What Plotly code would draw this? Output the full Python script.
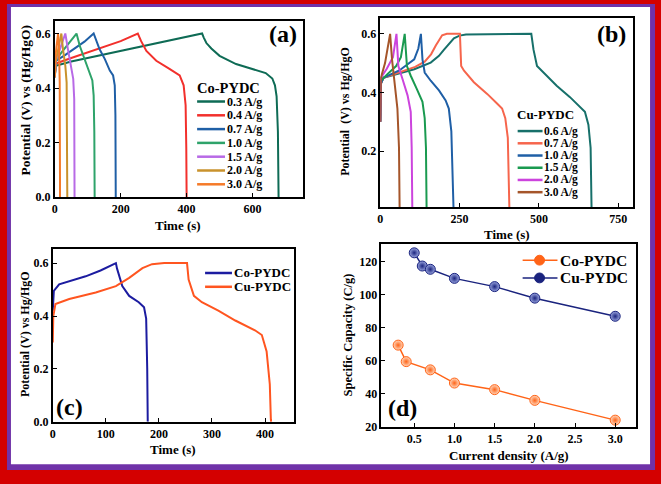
import plotly.graph_objects as go

W, H = 661, 484
SERIF = "Liberation Serif, Times New Roman, serif"

# ---------------- Panel (a): Co-PYDC GCD curves ----------------
A_RATES = ["0.3 A/g", "0.4 A/g", "0.7 A/g", "1.0 A/g", "1.5 A/g", "2.0 A/g", "3.0 A/g"]
A_COLORS = ["#0e6b55", "#f2302c", "#1f5fa6", "#2ea36a", "#b86ae6", "#c9922c", "#f57a28"]
A_TIME = [
    [0, 3, 50, 100, 150, 200, 250, 300, 350, 400, 447, 452, 460, 475, 500, 550, 600, 640, 660, 668, 673, 677, 679],
    [0, 3, 50, 100, 150, 200, 252, 262, 278, 308, 348, 379, 391, 397, 399, 400],
    [0, 3, 30, 60, 90, 118, 126, 136, 152, 167, 177, 182, 184, 185],
    [0, 3, 20, 40, 66, 76, 91, 104, 114, 118, 120, 121],
    [0, 3, 15, 32, 40, 48, 56, 59, 60],
    [0, 3, 10, 20, 25, 32, 36, 38],
    [0, 1, 5, 10, 13, 15, 16],
]
A_VOLT = [
    [0.44, 0.482, 0.497, 0.51, 0.522, 0.535, 0.548, 0.562, 0.575, 0.588, 0.60, 0.585, 0.565, 0.545, 0.518, 0.488, 0.47, 0.455, 0.435, 0.41, 0.37, 0.24, 0.0],
    [0.44, 0.49, 0.51, 0.53, 0.55, 0.572, 0.60, 0.572, 0.536, 0.50, 0.47, 0.446, 0.41, 0.337, 0.18, 0.0],
    [0.44, 0.50, 0.52, 0.545, 0.57, 0.60, 0.572, 0.542, 0.506, 0.464, 0.446, 0.41, 0.30, 0.0],
    [0.44, 0.50, 0.53, 0.56, 0.60, 0.554, 0.506, 0.464, 0.428, 0.373, 0.24, 0.0],
    [0.44, 0.50, 0.54, 0.60, 0.542, 0.482, 0.434, 0.36, 0.0],
    [0.44, 0.50, 0.54, 0.60, 0.542, 0.482, 0.42, 0.0],
    [0.44, 0.50, 0.55, 0.60, 0.54, 0.42, 0.0],
]

# ---------------- Panel (b): Cu-PYDC GCD curves ----------------
B_RATES = ["0.6 A/g", "0.7 A/g", "1.0 A/g", "1.5 A/g", "2.0 A/g", "3.0 A/g"]
B_COLORS = ["#17706a", "#f6654c", "#1f5fa6", "#1a9a50", "#cc44dd", "#a5552a"]
B_TIME = [
    [0, 2, 10, 50, 107, 159, 185, 201, 218, 232, 250, 270, 476, 483, 494, 515, 556, 598, 630, 645, 656, 663, 666],
    [0, 2, 10, 60, 110, 140, 160, 175, 185, 195, 210, 251, 255, 264, 295, 337, 368, 384, 394, 402, 407],
    [0, 2, 10, 60, 107, 120, 128, 133, 140, 159, 185, 206, 216, 224, 231],
    [0, 2, 20, 50, 65, 77, 84, 96, 115, 133, 140, 144, 146],
    [0, 2, 20, 40, 51, 57, 70, 86, 96, 99, 101],
    [0, 2, 15, 31, 37, 46, 54, 59, 61],
]
B_VOLT = [
    [0.30, 0.43, 0.45, 0.462, 0.479, 0.502, 0.525, 0.546, 0.568, 0.585, 0.594, 0.598, 0.60, 0.546, 0.49, 0.468, 0.423, 0.384, 0.35, 0.334, 0.29, 0.211, 0.0],
    [0.30, 0.43, 0.45, 0.468, 0.487, 0.505, 0.53, 0.56, 0.58, 0.595, 0.60, 0.60, 0.49, 0.474, 0.435, 0.395, 0.362, 0.345, 0.312, 0.245, 0.0],
    [0.30, 0.43, 0.45, 0.475, 0.513, 0.55, 0.60, 0.513, 0.468, 0.44, 0.407, 0.373, 0.345, 0.267, 0.0],
    [0.30, 0.44, 0.46, 0.49, 0.52, 0.60, 0.49, 0.457, 0.412, 0.368, 0.312, 0.211, 0.0],
    [0.30, 0.45, 0.48, 0.52, 0.60, 0.49, 0.446, 0.39, 0.334, 0.211, 0.0],
    [0.30, 0.45, 0.50, 0.60, 0.513, 0.423, 0.345, 0.211, 0.0],
]

# ---------------- Panel (c): comparison ----------------
C_NAMES = ["Co-PYDC", "Cu-PYDC"]
C_COLORS = ["#1c1ca0", "#ff5520"]
C_TIME = [
    [0, 0.5, 2, 12, 40, 62, 90, 119, 121, 125, 131, 144, 162, 172, 176, 178, 179],
    [0, 1, 5, 31, 81, 119, 144, 169, 187, 210, 253, 256, 266, 281, 312, 344, 381, 394, 403, 409, 411, 411.5],
]
C_VOLT = [
    [0.42, 0.46, 0.495, 0.52, 0.538, 0.55, 0.572, 0.60, 0.58, 0.555, 0.513, 0.476, 0.452, 0.433, 0.39, 0.2, 0.0],
    [0.30, 0.40, 0.445, 0.464, 0.489, 0.513, 0.544, 0.581, 0.596, 0.60, 0.60, 0.538, 0.476, 0.452, 0.42, 0.383, 0.346, 0.328, 0.266, 0.142, 0.01, 0.0],
]

# ---------------- Panel (d): specific capacity ----------------
D_NAMES = ["Co-PYDC", "Cu-PYDC"]
D_COLORS = ["#ff6418", "#1a237e"]
D_LIGHT = ["#ffd9bf", "#9aa6e0"]
D_CO_X = [0.3, 0.4, 0.7, 1.0, 1.5, 2.0, 3.0]
D_CO_Y = [69.5, 59.5, 54.5, 46.5, 42.5, 36.0, 24.0]
D_CU_X = [0.5, 0.6, 0.7, 1.0, 1.5, 2.0, 3.0]
D_CU_Y = [125.5, 117.5, 115.5, 110.0, 105.0, 98.0, 87.0]


def px(x):
    return x / W


def py(y):
    return 1 - y / H


fig = go.Figure()

for i in range(len(A_RATES)):
    fig.add_trace(go.Scatter(x=A_TIME[i], y=A_VOLT[i], mode="lines", name=A_RATES[i],
                             line=dict(color=A_COLORS[i], width=2), xaxis="x", yaxis="y",
                             showlegend=False))
for i in range(len(B_RATES)):
    fig.add_trace(go.Scatter(x=B_TIME[i], y=B_VOLT[i], mode="lines", name=B_RATES[i],
                             line=dict(color=B_COLORS[i], width=2), xaxis="x2", yaxis="y2",
                             showlegend=False))
for i in range(len(C_NAMES)):
    fig.add_trace(go.Scatter(x=C_TIME[i], y=C_VOLT[i], mode="lines", name=C_NAMES[i],
                             line=dict(color=C_COLORS[i], width=2), xaxis="x3", yaxis="y3",
                             showlegend=False))
for i, (xs, ys) in enumerate([(D_CO_X, D_CO_Y), (D_CU_X, D_CU_Y)]):
    fig.add_trace(go.Scatter(x=xs, y=ys, mode="lines+markers", name=D_NAMES[i],
                             line=dict(color=D_COLORS[i], width=1.5),
                             marker=dict(size=10, color=D_LIGHT[i],
                                         gradient=dict(type="radial", color=D_COLORS[i]),
                                         line=dict(color=D_COLORS[i], width=1)),
                             xaxis="x4", yaxis="y4", showlegend=False))

tickfont = dict(family=SERIF, size=12, color="black", weight="bold")


def axis(domain, rng, dtick=None, tickvals=None, anchor=None):
    d = dict(domain=domain, range=rng, showline=True, linecolor="black", linewidth=1.5,
             mirror=True, ticks="inside", ticklen=4, tickwidth=1.2, tickcolor="black",
             showgrid=False, zeroline=False, tickfont=tickfont, anchor=anchor)
    if dtick is not None:
        d["dtick"] = dtick
        d["tick0"] = 0
    if tickvals is not None:
        d["tickvals"] = tickvals
    return d


fig.update_layout(
    width=W, height=H, margin=dict(l=0, r=0, t=0, b=0, pad=0),
    paper_bgcolor="#d40000", plot_bgcolor="white",
    xaxis=axis([px(52), px(301)], [0, 752], dtick=200, anchor="y"),
    yaxis=axis([py(200), py(21)], [0, 0.647], dtick=0.2, anchor="x"),
    xaxis2=axis([px(379), px(633)], [0, 797], dtick=250, anchor="y2"),
    yaxis2=axis([py(210), py(18)], [0.009, 0.655], tickvals=[0.2, 0.4, 0.6], anchor="x2"),
    xaxis3=axis([px(50), px(292)], [0, 454], dtick=100, anchor="y3"),
    yaxis3=axis([py(428), py(253)], [0, 0.652], dtick=0.2, anchor="x3"),
    xaxis4=axis([px(380), px(636)], [0.09, 3.26], dtick=0.5, anchor="y4"),
    yaxis4=axis([py(433), py(248)], [20, 130.6], dtick=20, anchor="x4"),
)
fig.layout.yaxis.tickformat = ".1f"
fig.layout.yaxis2.tickformat = ".1f"
fig.layout.yaxis3.tickformat = ".1f"
fig.layout.xaxis4.tickformat = ".1f"

shapes = []
# frame: purple band inside red, white inside
shapes.append(dict(type="rect", xref="paper", yref="paper", x0=px(4), x1=px(655), y0=py(477), y1=py(4),
                   fillcolor="#7032a8", line=dict(width=0), layer="below"))
shapes.append(dict(type="rect", xref="paper", yref="paper", x0=px(8), x1=px(650), y0=py(471), y1=py(7),
                   fillcolor="white", line=dict(width=0), layer="below"))

annotations = []


def text(x, y, s, size, anchor="left", angle=0):
    annotations.append(dict(x=px(x), y=py(y), xref="paper", yref="paper", text=s, showarrow=False,
                            xanchor=anchor, yanchor="middle", textangle=angle,
                            font=dict(family=SERIF, size=size, color="black", weight="bold")))


def legend_line(x0, x1, y, color, width=2.5):
    shapes.append(dict(type="line", xref="paper", yref="paper", x0=px(x0), x1=px(x1), y0=py(y), y1=py(y),
                       line=dict(color=color, width=width)))


# legend (a)
text(193, 89, "Co-PYDC", 14.5)
for i, (nm, c) in enumerate(zip(A_RATES, A_COLORS)):
    y = 103 + 14 * i
    legend_line(195, 223, y, c)
    text(223, y, nm, 12)

# legend (b)
text(514, 116, "Cu-PYDC", 13)
for i, (nm, c) in enumerate(zip(B_RATES, B_COLORS)):
    y = 133 + 12.4 * i
    legend_line(517, 542, y, c)
    text(541, y, nm, 11.5)

# legend (c)
for i, (nm, c) in enumerate(zip(C_NAMES, C_COLORS)):
    y = 277 + 14 * i
    legend_line(203, 230, y, c)
    text(230, y, nm, 13)

# legend (d)
for i, (nm, c) in enumerate(zip(D_NAMES, D_COLORS)):
    y = 264 + 18 * i
    legend_line(522, 557, y, c, 1.5)
    shapes.append(dict(type="circle", xref="paper", yref="paper", x0=px(534), x1=px(544),
                       y0=py(y + 5), y1=py(y - 5), fillcolor=c, line=dict(color=c, width=1)))
    text(558, y, nm, 15.5)

# panel labels
text(281, 35, "(a)", 24, anchor="center")
text(611, 35, "(b)", 24, anchor="center")
text(67, 413, "(c)", 24, anchor="center")
text(401, 414, "(d)", 24, anchor="center")

# axis titles
text(176, 229, "Time (s)", 13, anchor="center")
text(23, 102, "Potential (V) vs (Hg/HgO)", 13.5, anchor="center", angle=-90)
text(506, 238, "Time (s)", 13, anchor="center")
text(344, 113, "Potential  (V) vs Hg/HgO", 12, anchor="center", angle=-90)
text(171, 456, "Time (s)", 13, anchor="center")
text(22, 339, "Potential (V) vs Hg/HgO", 12, anchor="center", angle=-90)
text(508, 462, "Current density (A/g)", 13, anchor="center")
text(347, 340, "Specific Capacity (C/g)", 12.5, anchor="center", angle=-90)

fig.update_layout(shapes=shapes, annotations=annotations)
fig.write_html("out.html")
